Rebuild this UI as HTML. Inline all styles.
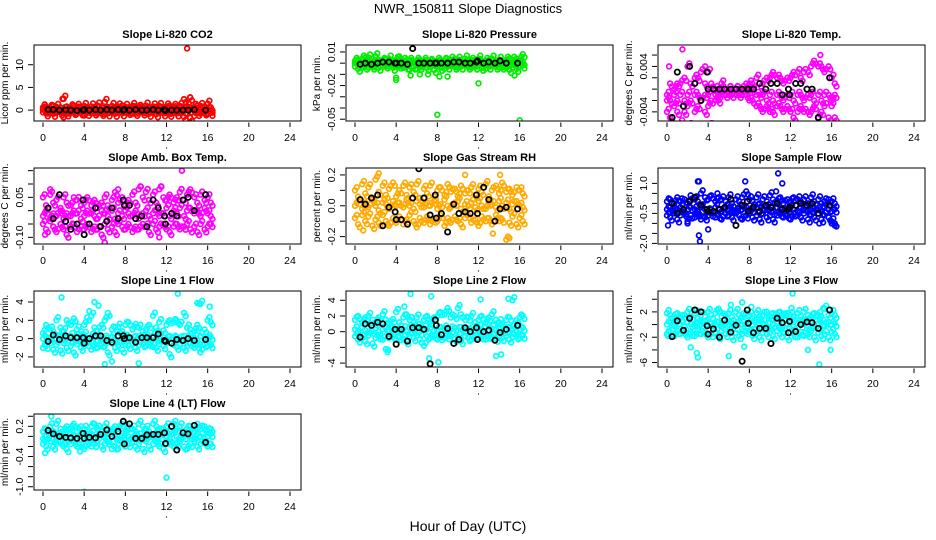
<!DOCTYPE html>
<html><head><meta charset="utf-8">
<style>
html,body{margin:0;padding:0;background:#fff;}
svg{display:block;font-family:"Liberation Sans",Arial,sans-serif;}
</style></head>
<body>
<svg id="chart" width="936" height="540" viewBox="0 0 936 540" xmlns="http://www.w3.org/2000/svg">
<text x="468" y="13" text-anchor="middle" font-size="13">NWR_150811  Slope Diagnostics</text>
<text x="468" y="531" text-anchor="middle" font-size="14">Hour of Day (UTC)</text>
</svg>
<script>
const xTicks=[0,4,8,12,16,20,24];
const H=[0,0.3,0.7,1,1.3,1.7,2,2.3,2.7,3,3.3,3.7,4,4.3,4.7,5,5.3,5.7,6,6.3,6.7,7,7.3,7.7,8,8.3,8.7,9,9.3,9.7,10,10.3,10.7,11,11.3,11.7,12,12.3,12.7,13,13.3,13.7,14,14.3,14.7,15,15.3,15.7,16,16.3];
const BH=[0.5,1,1.6,2.2,2.7,3.3,3.9,4,4.5,5.1,5.6,6.2,6.7,7.3,7.8,7.9,8.4,9,9.6,10.1,10.7,11.2,11.8,11.9,12.5,13,13.6,14.1,14.7,15.8];

const titles=["Slope Li-820 CO2","Slope Li-820 Pressure","Slope Li-820 Temp.","Slope Amb. Box Temp.","Slope Gas Stream RH","Slope Sample Flow","Slope Line 1 Flow","Slope Line 2 Flow","Slope Line 3 Flow","Slope Line 4 (LT) Flow"];
const yTitles=["Licor ppm per min.","kPa per min.","degrees C per min.","degrees C per min.","percent per min.","ml/min per min.","ml/min per min.","ml/min per min.","ml/min per min.","ml/min per min."];
const yDomains=[[14.35,-2.4],[0.0162,-0.0516],[0.00777,-0.00561],[0.16,-0.125],[0.245,-0.248],[1.77,-2.03],[5.2,-3.1],[5.18,-4.5],[5.3,-6.7],[0.445,-1.065]];
const yTickVals=[[0,5,10],[0.01,0,-0.01,-0.02,-0.03,-0.04,-0.05],[0.006,0.004,0.002,0,-0.002,-0.004],[0.15,0.1,0.05,0,-0.05,-0.1],[0.2,0.1,0,-0.1,-0.2],[1,0.5,0,-0.5,-1,-1.5,-2],[4,2,0,-2],[4,2,0,-2,-4],[4,2,0,-2,-4,-6],[0.4,0.2,0,-0.2,-0.4,-0.6,-0.8,-1.0]];
const yTickLabels=[["0","5","10"],["0.01","","","-0.02","","","-0.05"],["","0.004","","","","-0.004"],["","","0.05","","","-0.10"],["0.2","","0.0","","-0.2"],["1.0","","","-0.5","","","-2.0"],["4","2","0","-2"],["4","2","0","","-4"],["","2","","-2","","-6"],["","0.2","","","-0.4","","","-1.0"]];
const colors=["#ff0000","#00ee00","#ff00ff","#ff00ff","#ffaa00","#0000ff","#00ffff","#00ffff","#00ffff","#00ffff"];

const serA=[
[0.6,0.8,0.5,0.9,0.7,0.6,2.5,0.8,0.6,1.0,0.7,0.5,0.9,0.6,0.8,0.7,1.0,0.6,1.8,0.7,0.9,0.6,0.8,1.0,0.7,0.6,0.9,0.8,0.5,0.7,1.0,0.6,0.8,0.7,0.9,0.6,0.8,1.0,0.7,0.6,0.9,2.4,0.8,2.8,0.7,1.0,0.9,0.8,1.4,0.6],
[0.002,0.003,0.004,0.005,0.005,0.004,0.006,0.003,0.002,0.003,0.004,0.002,0.003,0.006,0.002,0.003,0.002,0.001,0.002,0.003,0.002,0.002,0.001,0.002,0.002,0.003,0.002,0.002,0.003,0.004,0.003,0.002,0.004,0.003,0.002,0.003,0.004,0.002,0.002,0.003,0.004,0.002,0.003,0.002,0.003,0.004,0.003,0.004,0.003,0.008],
[-0.001,0.001,0,0.001,0.001,0.002,0.004,0.001,0.002,0.002,0.003,0.001,0.003,0.001,0,0,0.001,0,0,0,0,0,0,0.001,0.001,0.001,0.002,0.001,0.001,0.002,0.002,0.003,0.002,0.002,0.001,0.002,0.002,0.003,0.003,0.002,0.003,0.003,0.004,0.005,0.004,0.004,0.003,0.004,0.002,0.001],
[0.05,0.02,0.06,0.03,0.04,0.01,0.05,0.03,0.02,0.05,0.04,0.02,0.03,0.05,0.02,0.04,0.01,0.03,0.05,0.02,0.04,0.07,0.03,0.05,0.02,0.04,0.06,0.03,0.08,0.05,0.07,0.04,0.06,0.03,0.08,0.05,0.04,0.06,0.03,0.05,0.07,0.04,0.06,0.08,0.05,0.03,0.06,0.04,0.05,0.03],
[0.1,0.06,0.14,0.08,0.12,0.05,0.17,0.09,0.13,0.07,0.11,0.15,0.06,0.1,0.13,0.07,0.12,0.09,0.14,0.05,0.11,0.08,0.13,0.06,0.1,0.12,0.07,0.14,0.09,0.11,0.06,0.13,0.08,0.1,0.12,0.07,0.11,0.09,0.14,0.06,0.1,0.13,0.08,0.15,0.09,0.11,0.07,0.12,0.1,0.08],
[0.1,0.2,0,0.3,0.1,0.2,0,0.4,0.2,0.1,0.5,0.3,0.2,0.4,0.1,0.3,0.2,0.1,0.3,0,0.2,0.1,0.3,0.6,0.2,0.1,0.3,0,0.2,0.1,0.4,0.2,0.1,0.3,0,0.2,0.1,0.3,0.2,0.1,0.2,0,0.3,0.1,0.2,0,0.1,0.2,0.1,0],
[0.6,1.5,1.0,0.8,2.0,1.2,0.8,2.0,1.5,2.2,1.0,0.8,1.5,2.3,2.5,1.2,0.9,1.5,2.0,2.8,1.0,1.2,1.3,0.8,1.5,1.8,1.0,1.6,1.2,0.8,1.0,1.5,2.5,1.2,1.8,0.9,1.5,2.0,1.8,2.0,1.5,2.8,1.2,1.0,0.8,1.5,3.8,1.0,2.0,1.8],
[1.5,2,1.2,1.8,2.0,1.5,1.2,1.8,2.2,1.5,1.0,1.6,2.5,1.2,1.8,2.2,1.5,1.2,1.8,1.0,1.5,2.0,1.2,1.8,2.0,2.5,2.2,3.0,1.8,2.0,3.0,2.2,1.5,1.8,2.0,1.2,1.5,2.0,1.2,1.8,2.2,1.5,1.2,1.0,1.5,1.8,4.0,1.5,1.8,2.0],
[1.8,1.5,1.2,1.8,1.0,1.5,2.0,1.3,1.8,1.0,1.5,1.2,2.0,1.5,1.8,2.5,1.3,1.5,1.8,1.2,2.0,1.5,1.3,1.8,1.5,1.0,1.8,1.3,1.5,2.0,1.2,1.8,1.5,2.0,1.3,1.8,1.5,1.2,1.8,1.3,2.0,1.5,1.2,1.8,1.5,1.3,2.5,1.5,1.8,1.5],
[0.1,0.15,0.2,0.1,0.25,0.15,0.1,0.2,0.15,0.25,0.1,0.2,0.15,0.1,0.2,0.25,0.15,0.1,0.2,0.15,0.1,0.2,0.15,0.25,0.1,0.2,0.15,0.1,0.25,0.2,0.15,0.1,0.25,0.2,0.1,0.15,0.2,0.1,0.25,0.15,0.2,0.1,0.15,0.2,0.1,0.25,0.15,0.2,0.1,0.15]];

const serB=[
[0.1,-0.1,0.2,0,-0.2,0.1,0,-0.1,0.2,0,0.1,-0.1,0,0.2,-0.1,0,0.1,-0.2,0,0.1,-0.1,0.2,0,0.1,-0.1,0,0.2,-0.1,0.1,0,-0.2,0.1,0,0.2,-0.1,0,0.1,-0.1,0.2,0,0.1,-0.1,0,0.2,-0.1,0,0.1,-0.2,0,0.1],
[0,-0.001,0,0.001,0,-0.001,0,0,0.001,0,-0.001,0,0.001,0,-0.001,0,0,0.001,0,-0.001,0,0.001,0,0,-0.001,0,0.001,0,0,-0.001,0,0.001,0,-0.001,0,0,0.001,0,-0.001,0,0,0.001,0,-0.001,0,0.001,0,-0.001,0,0.001],
[-0.002,-0.002,-0.001,-0.002,-0.001,-0.002,-0.001,-0.002,-0.001,-0.001,-0.002,-0.001,-0.001,-0.002,-0.001,-0.001,0,-0.001,0,0,0,0,-0.001,0,0,0,-0.001,-0.001,-0.001,-0.002,-0.001,-0.002,-0.001,-0.001,-0.002,-0.001,-0.001,-0.002,-0.001,-0.001,-0.002,-0.001,-0.001,-0.002,-0.001,-0.002,-0.001,-0.001,-0.002,-0.001],
[-0.02,0,-0.03,-0.01,-0.02,0,-0.03,-0.01,-0.02,0,-0.01,-0.03,-0.02,0,-0.01,-0.02,-0.03,0,-0.01,-0.02,0,-0.03,-0.01,-0.02,0,-0.01,-0.02,0,-0.03,-0.01,0,-0.02,-0.01,0,-0.02,-0.01,0.01,-0.02,0,-0.01,0.01,-0.02,0,0.01,-0.01,0,-0.02,0.01,-0.01,-0.02],
[0,0.03,-0.02,0.02,-0.01,0.04,0,-0.03,0.02,0.01,-0.02,0.03,0,0.02,-0.01,0.04,0,-0.02,0.03,0.01,-0.01,0.02,0,0.03,-0.02,0.01,0.04,0,-0.01,0.02,0.03,-0.02,0.01,0,0.02,-0.01,0.03,0,-0.02,0.02,0.01,-0.01,0.03,0,0.02,-0.02,0.01,0.03,0,-0.01],
[-0.3,-0.2,-0.4,-0.3,-0.2,-0.4,-0.3,-0.2,-0.3,-0.4,-0.2,-0.3,-0.4,-0.3,-0.2,-0.3,-0.4,-0.2,-0.3,-0.3,-0.4,-0.2,-0.3,-0.2,-0.4,-0.3,-0.2,-0.4,-0.3,-0.2,-0.3,-0.4,-0.2,-0.3,-0.4,-0.3,-0.2,-0.3,-0.4,-0.2,-0.3,-0.4,-0.3,-0.2,-0.3,-0.4,-0.2,-0.3,-0.4,-0.3],
[0,0.2,-0.1,0.3,0,0.2,-0.2,0.1,0.3,0,0.2,-0.1,0.4,0,0.2,0.1,-0.2,0.3,0,0.1,0.2,-0.1,0.3,0,0.1,0.2,-0.1,0.3,0,0.2,0.1,-0.2,0.3,0,0.2,0.1,-0.1,0.3,0,0.2,-0.1,0.3,0,0.2,0.1,-0.2,0.3,0,0.1,0.2],
[0.3,0,0.5,0.2,0.6,0.1,0.4,0,0.3,0.5,0.2,0.6,0,0.4,0.3,0.1,0.5,0.2,0.6,0,0.4,0.3,0.5,0.1,0.2,0.6,0.4,0,0.3,0.5,0.2,0.6,0,0.4,0.3,0.1,0.5,0.2,0.6,0,0.4,0.3,0.5,0.1,0.2,0.6,0.4,0,0.3,0.5],
[0,0.3,-0.2,0.5,0,-0.3,0.4,0.1,-0.2,0.3,0,0.5,-0.2,0.2,0,0.4,-0.3,0.2,0,0.3,-0.2,0.5,0,0.1,0.3,-0.2,0.4,0,0.2,-0.3,0.3,0,0.5,-0.2,0.2,0,0.4,-0.3,0.2,0,0.3,-0.2,0.5,0,0.1,0.3,-0.2,0.4,0,0.2],
[-0.05,0,0.05,-0.05,0,0.05,0,-0.05,0.05,0,-0.05,0.05,0,0,0.05,-0.05,0,0.05,0,-0.05,0.05,0,-0.05,0,0.05,0,-0.05,0.05,0,0,-0.05,0.05,0,-0.05,0,0.05,0,-0.05,0.05,0,-0.05,0,0.05,0,-0.05,0.05,0,-0.05,0,0.05]];

const serC=[
[-0.5,-0.7,-0.4,-0.8,-0.6,-0.5,-1.6,-0.7,-0.6,-0.4,-0.8,-0.5,-1.2,-0.6,-0.7,-0.5,-0.8,-0.6,-0.4,-0.7,-0.5,-0.8,-0.6,-0.7,-0.5,-0.4,-0.8,-0.6,-0.7,-0.5,-0.6,-0.8,-0.5,-0.9,-0.6,-0.7,-0.5,-0.8,-0.6,-0.7,-0.5,-1.5,-0.8,-1.7,-1.3,-0.6,-0.8,-0.5,-0.7,-0.6],
[-0.003,-0.005,-0.004,-0.003,-0.004,-0.003,-0.002,-0.004,-0.003,-0.002,-0.003,-0.004,-0.003,-0.002,-0.004,-0.003,-0.006,-0.003,-0.005,-0.003,-0.002,-0.004,-0.003,-0.006,-0.003,-0.004,-0.005,-0.003,-0.002,-0.003,-0.004,-0.003,-0.002,-0.003,-0.004,-0.003,-0.002,-0.004,-0.005,-0.003,-0.002,-0.003,-0.004,-0.003,-0.004,-0.006,-0.004,-0.005,-0.003,-0.002],
[-0.004,-0.005,-0.003,-0.004,-0.006,-0.004,-0.003,-0.006,-0.004,-0.003,-0.002,-0.004,-0.003,-0.006,-0.002,-0.002,-0.001,-0.001,-0.001,-0.001,-0.001,-0.001,-0.001,-0.001,-0.002,-0.002,-0.003,-0.003,-0.004,-0.003,-0.004,-0.004,-0.003,-0.003,-0.004,-0.003,-0.004,-0.005,-0.004,-0.003,-0.004,-0.004,-0.004,-0.003,-0.005,-0.004,-0.003,-0.005,-0.003,-0.005],
[-0.05,-0.07,-0.04,-0.06,-0.08,-0.05,-0.07,-0.09,-0.06,-0.05,-0.08,-0.06,-0.07,-0.05,-0.08,-0.06,-0.07,-0.09,-0.05,-0.07,-0.06,-0.08,-0.05,-0.06,-0.07,-0.05,-0.08,-0.06,-0.07,-0.05,-0.06,-0.08,-0.05,-0.07,-0.06,-0.05,-0.07,-0.08,-0.06,-0.05,-0.07,-0.06,-0.05,-0.07,-0.06,-0.08,-0.05,-0.07,-0.06,-0.05],
[-0.08,-0.12,-0.06,-0.1,-0.07,-0.13,-0.09,-0.11,-0.06,-0.1,-0.13,-0.08,-0.11,-0.07,-0.12,-0.09,-0.06,-0.1,-0.14,-0.08,-0.11,-0.07,-0.12,-0.09,-0.1,-0.06,-0.13,-0.08,-0.11,-0.07,-0.1,-0.12,-0.08,-0.06,-0.11,-0.09,-0.13,-0.07,-0.1,-0.08,-0.12,-0.06,-0.1,-0.09,-0.22,-0.11,-0.07,-0.12,-0.08,-0.1],
[-0.6,-0.7,-0.5,-0.8,-0.6,-0.5,-0.9,-0.6,-0.7,-0.5,-0.8,-0.7,-0.6,-0.5,-0.7,-0.6,-0.8,-0.5,-0.6,-0.7,-0.5,-0.6,-0.8,-0.6,-0.5,-0.7,-0.6,-0.8,-0.5,-0.7,-0.6,-0.8,-0.6,-0.5,-0.7,-0.6,-0.8,-0.5,-0.6,-0.7,-0.5,-0.8,-0.6,-0.7,-0.5,-0.8,-0.6,-0.7,-0.9,-1.0],
[-1.0,-0.8,-0.5,-1.2,-0.7,-1.3,-0.5,-1.0,-0.8,-1.5,-0.6,-1.0,-0.8,-0.5,-1.2,-0.7,-1.0,-0.6,-0.8,-1.5,-0.5,-1.0,-0.7,-1.2,-0.6,-0.8,-0.5,-1.0,-0.7,-0.6,-0.8,-0.5,-0.9,-1.0,-0.6,-0.8,-0.5,-1.7,-0.7,-0.9,-0.6,-1.0,-0.8,-0.5,-1.0,-0.7,-1.5,-0.6,-0.8,-0.7],
[-0.6,-1.0,-0.8,-1.2,-0.5,-1.5,-0.8,-0.6,-1.0,-2.2,-0.8,-0.5,-1.0,-0.7,-0.9,-1.2,-0.6,-0.8,-0.5,-1.0,-1.8,-0.6,-0.8,-0.5,-1.0,-0.7,-0.8,-0.6,-0.5,-0.9,-0.7,-1.2,-0.6,-0.8,-1.0,-0.5,-0.8,-0.6,-1.0,-0.5,-0.7,-0.9,-0.6,-0.8,-0.5,-1.0,-0.7,-0.6,-0.8,-0.5],
[-1.5,-1.2,-1.8,-1.0,-1.5,-1.2,-2.0,-1.3,-1.8,-1.0,-1.5,-1.2,-2.0,-1.5,-1.2,-1.8,-1.0,-1.5,-1.2,-2.0,-1.3,-1.8,-1.5,-1.0,-1.2,-1.8,-1.5,-2.0,-1.3,-1.5,-1.2,-1.8,-1.0,-1.5,-1.2,-2.0,-1.3,-1.5,-2.0,-1.2,-1.8,-1.5,-1.0,-2.0,-1.3,-1.8,-1.5,-2.0,-1.2,-1.5],
[-0.15,-0.2,-0.1,-0.2,-0.15,-0.1,-0.2,-0.25,-0.15,-0.1,-0.2,-0.15,-0.25,-0.1,-0.2,-0.15,-0.1,-0.2,-0.15,-0.1,-0.25,-0.2,-0.15,-0.1,-0.2,-0.15,-0.1,-0.2,-0.15,-0.25,-0.1,-0.2,-0.15,-0.1,-0.2,-0.25,-0.15,-0.1,-0.2,-0.15,-0.1,-0.2,-0.25,-0.15,-0.1,-0.2,-0.15,-0.1,-0.2,-0.15]];

const outX=[[14,1.9,13.7,14.3],[4,4,5.4,6.3,7.1,8,8.2,9,12,16,15.5],[0.2,1.5,3.7,14.9,13.8,2.4,4.4],[0.2,0.7,6,11.3,13.5,7.3,9.5,11.5],[0.8,2.3,10.7,14.1,15,13.4],[0.1,3.1,3.2,3.1,4,3,4.9,7.6,10.6,10.8,11.2,2,14.8,16,16.3],[1.8,5,13.1,15,6,6.7,9.3,5.4,4.5,15.2,16.2],[5.4,7.4,12.2,14.9,7.2,8.1,13.7,14.2,4.8,3.2],[0.1,2.3,2.9,3.0,6.0,6.2,7.3,8.2,12.2,12.1,13.7,14.8,15.2,15.9,11.5,7.5],[0.2,0.8,4,12,3.6,7.3]];
const outY=[[13.6,2.5,2.4,2.8],[-0.013,-0.015,-0.011,-0.01,-0.01,-0.046,-0.012,-0.012,-0.018,-0.051,-0.011],[0.004,0.007,0.004,0.006,-0.007,-0.006,-0.006],[-0.09,0.08,-0.12,-0.1,0.15,0.08,0.09,0.09],[-0.16,0.21,0.2,0.2,-0.21,-0.18],[-1.1,-1.6,-1.9,1.1,-1.3,1.1,0.5,1.1,0.6,1.5,1.0,-1,-1,-1,-1.1],[4.5,4,4.9,3.9,-2.8,-2.5,-2.7,3.6,3,3.8,3.5],[4.8,4.5,4.1,4.2,-3.4,-3.9,-3.1,-2.9,3.2,-2.3],[-1.8,-3.6,-4.5,-5.2,-5.0,3.1,3.5,2.8,4.9,2.6,-4.0,-6.3,2.6,-4.0,1.5,-3.5],[-0.33,0.4,-1.1,-0.82,-0.3,-0.25]];

const blackY=[
[0.1,0.1,0,0.05,0,-0.1,0,0.1,0,0.1,0,0.1,0,0.1,0,0.1,0,0.1,0,0,0.1,0,0.1,-0.1,0,0,0,0,0.1,0],
[-0.001,0,-0.001,0,0.001,0.001,0,0,0,-0.001,0.013,0,0,0,0,0,0,0,0.001,0.001,0,0,0.001,0.002,0,0.001,0,0.002,0,0],
[-0.005,0.003,-0.003,0.004,0.001,-0.002,0.003,0,0,0,0,0,0,0,0,0,0,0.001,0,0.001,0.001,-0.001,0,-0.001,0.001,0.001,0,0,-0.005,0.002],
[0.01,-0.03,0.06,-0.04,-0.07,-0.05,0.04,-0.09,-0.05,0.01,-0.06,-0.04,0.01,-0.03,0.04,0.02,0.02,-0.03,-0.02,-0.06,0.04,0.01,-0.02,-0.05,-0.01,-0.02,0.04,0.05,0,0.06],
[0.04,0.01,0.05,0.07,-0.13,-0.01,-0.04,-0.09,-0.09,-0.12,0.05,0.24,0.05,-0.06,0.07,-0.08,-0.05,-0.17,0.01,-0.05,-0.04,-0.05,0.07,-0.05,0.12,0.04,-0.1,-0.02,-0.01,-0.02],
[0,-0.5,-0.3,0.1,0.3,-0.1,-0.3,-0.4,-0.4,-0.3,-0.2,0.2,-1.1,-0.1,0.1,-0.4,-0.2,-0.4,-0.1,-0.2,0,-0.3,-0.3,-0.2,-0.1,0,-0.1,0,-0.5,-0.1],
[-0.3,0.4,-0.1,0.3,0.1,0.1,0.1,-0.5,0,0.3,0.3,-0.2,-0.4,0.3,0.3,0,0.1,-0.4,0.1,0.1,0.1,0.5,-0.2,-0.3,-0.5,-0.1,-0.2,0,-0.2,-0.1],
[-0.7,1.0,0.8,1.2,1.0,-0.6,0.3,-1.6,0.3,-1.2,0.5,0.5,0.3,-4.1,1.5,0.8,-0.4,0.4,-1.5,-1.0,0.5,0,0.5,-1.0,0,0.2,-1.1,-0.1,0.3,0.8],
[-1.9,0.6,-0.9,1.0,2.3,2.0,-0.2,-1.5,-0.7,-2.0,0.7,-1.2,-0.1,-5.8,2.3,0.2,-1.3,-0.6,-0.6,-3.0,1.0,0.3,-1.3,0.5,-1.1,0,0.4,0.3,-0.6,2.3],
[0.12,0.05,0,-0.02,-0.03,-0.04,0.06,-0.04,-0.02,-0.03,0.04,0.13,0,0.1,0.3,-0.15,0.25,-0.04,-0.04,0.03,0.04,0.04,0.07,-0.14,0.2,-0.27,0.07,0.05,0.22,-0.12]];

const NS="http://www.w3.org/2000/svg";
const svg=document.getElementById('chart');
const colLeft=[34,346,658], rowTop=[45,168,291,414];
const BOXW=267, BOXH=76;
function mk(tag,attrs,parent){const e=document.createElementNS(NS,tag);for(const k in attrs)e.setAttribute(k,attrs[k]);parent.appendChild(e);return e;}

titles.forEach((t,p)=>{
  const L=colLeft[p%3], T=rowTop[Math.floor(p/3)], B=T+BOXH;
  const xS=h=>L+9+h*(247/24);
  const [yt,yb]=yDomains[p];
  const yS=v=>T+(yt-v)/(yt-yb)*BOXH;
  const g=mk('g',{},svg);
  
  
  const cp=mk('clipPath',{id:'cp'+p},g);
  mk('rect',{x:L,y:T,width:BOXW,height:BOXH},cp);
  const ti=mk('text',{x:L+BOXW/2,y:T-7,'text-anchor':'middle','font-size':11,'font-weight':'bold'},g);
  ti.textContent=t;
  
  
  const yl=mk('text',{x:0,y:0,transform:`translate(${L-26},${T+BOXH/2}) rotate(-90)`,'text-anchor':'middle','font-size':10},g);
  yl.textContent=yTitles[p];
  
  
  xTicks.forEach(v=>{
    const x=xS(v);
    mk('line',{x1:x,x2:x,y1:B+1.5,y2:B+6,stroke:'#000','stroke-width':1},g);
    const tl=mk('text',{x:x,y:B+20,'text-anchor':'middle','font-size':10.5},g);
    tl.textContent=v;
    
    
  });
  mk('circle',{cx:xS(12),cy:B+27,r:0.6,fill:'#000'},g);
  yTickVals[p].forEach((v,i)=>{
    const y=yS(v);
    mk('line',{x1:L-6,x2:L-1,y1:y,y2:y,stroke:'#000','stroke-width':1},g);
    const lab=yTickLabels[p][i];
    if(lab){
      const tl=mk('text',{x:0,y:0,transform:`translate(${L-11},${y}) rotate(-90)`,'text-anchor':'middle','font-size':10.5},g);
      tl.textContent=lab;
      
      
    }
  });
  const pts=mk('g',{'clip-path':`url(#cp${p})`,fill:'none','stroke-width':1.7},g);
  
  
  const col=colors[p];
  [serA[p],serB[p],serC[p]].forEach(s=>{
    s.forEach((v,i)=>{
      const c=mk('circle',{cx:xS(H[i]),cy:yS(v),r:2.4,stroke:col},pts);
      
      
      const c2=mk('circle',{cx:xS(H[i])+1.7,cy:yS(v)+(i%2?3:-3),r:2.4,stroke:col},pts);
      
      
    });
  });
  outX[p].forEach((h,i)=>{
    const c=mk('circle',{cx:xS(h),cy:yS(outY[p][i]),r:2.4,stroke:col},pts);
    
    
  });
  blackY[p].forEach((v,i)=>{
    const c=mk('circle',{cx:xS(BH[i]),cy:yS(v),r:2.6,stroke:'#000','stroke-width':1.8},pts);
    
    
  });
  const box=mk('rect',{x:L,y:T,width:BOXW,height:BOXH,fill:'none',stroke:'#000','stroke-width':1},g);
  
  
});
</script>
</body></html>
